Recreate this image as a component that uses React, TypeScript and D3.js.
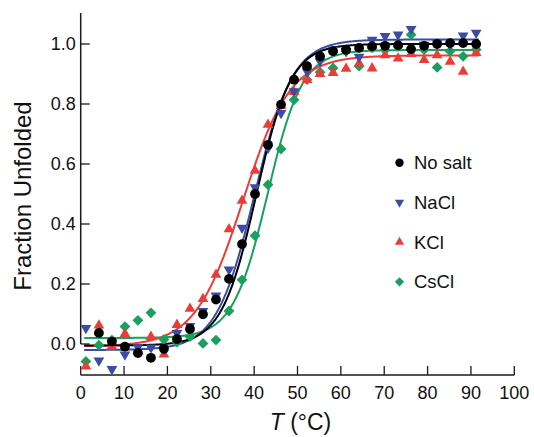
import React from 'react';
import * as d3 from 'd3';

const temps = [1.2, 4.2, 7.2, 10.2, 13.2, 16.2, 19.2, 22.2, 25.2, 28.2, 31.2, 34.2, 37.2, 40.2, 43.2, 46.2, 49.2, 52.2, 55.2, 58.2, 61.2, 64.2, 67.2, 70.2, 73.2, 76.2, 79.2, 82.2, 85.2, 88.2, 91.2];

const noSalt = [NaN, 0.037, 0.008, -0.009, -0.03, -0.046, -0.016, 0.016, 0.05, 0.099, 0.148, 0.217, 0.333, 0.5, 0.664, 0.798, 0.881, 0.926, 0.959, 0.976, 0.981, 0.987, 0.992, 0.994, 0.996, 0.983, 0.994, 1.0, 1.003, 1.003, 1.0];
const naCl = [0.053, -0.055, -0.084, -0.035, -0.01, -0.012, -0.018, 0.036, 0.06, 0.11, 0.161, 0.248, 0.387, 0.522, 0.653, 0.77, 0.842, 0.909, 0.942, 0.981, 0.976, 0.957, 1.014, 1.026, 1.031, 1.05, 0.997, 1.002, 0.997, 1.028, 1.037];
const kCl = [-0.075, 0.062, -0.008, 0.034, -0.024, 0.024, -0.035, 0.064, 0.118, 0.15, 0.231, 0.383, 0.478, 0.578, 0.731, 0.794, 0.84, 0.88, 0.9, 0.904, 0.918, 0.935, 0.919, 0.963, 0.952, 0.967, 0.947, 0.963, 0.941, 0.908, 0.97];
const csCl = [-0.058, -0.004, 0.013, 0.058, 0.079, 0.104, 0.015, 0.006, 0.025, 0.002, 0.013, 0.11, 0.214, 0.361, 0.531, 0.65, 0.814, 0.881, 0.906, 0.92, 0.976, 0.926, 0.987, 0.98, 0.992, 1.031, 0.981, 0.922, 0.976, 0.959, 0.981];

// two-state fit parameters: [low baseline, high baseline, Tm, width]
const fitNoSalt = [-0.005, 1.0, 40.5, 4.0];
const fitNaCl = [-0.02, 1.015, 40.1, 4.4];
const fitKCl = [-0.008, 0.962, 37.4, 5.5];
const fitCsCl = [0.02, 0.98, 43.1, 4.0];

const seriesNames = ['No salt', 'NaCl', 'KCl', 'CsCl'];
const seriesColors = ['#000000', '#3b4ca3', '#ec3c38', '#17a05e'];
const seriesShapes = ['circle', 'down', 'up', 'diamond'];

const xTicks = [0, 10, 20, 30, 40, 50, 60, 70, 80, 90, 100];
const yTicks = [0.0, 0.2, 0.4, 0.6, 0.8, 1.0];

const FONT = '"Liberation Sans", Arial, Helvetica, sans-serif';

function markerPath(shape: string, s: number): string {
  if (shape === 'circle') {
    return `M${s},0A${s},${s} 0 1,1 ${-s},0A${s},${s} 0 1,1 ${s},0Z`;
  }
  if (shape === 'down') {
    const a = s * 1.1, h = s * 1.9;
    return `M${-a},${-h / 3}L${a},${-h / 3}L0,${(2 * h) / 3}Z`;
  }
  if (shape === 'up') {
    const a = s * 1.1, h = s * 1.9;
    return `M${-a},${h / 3}L${a},${h / 3}L0,${(-2 * h) / 3}Z`;
  }
  const d = s * 1.1;
  return `M0,${-d}L${d},0L0,${d}L${-d},0Z`;
}

export default function App() {
  const x = d3.scaleLinear().domain([0, 100]).range([80.7, 514.3]);
  const y = d3.scaleLinear().domain([0, 1]).range([344, 44]);
  const xAxisY = y(-0.103);
  const yTop = y(1.103);

  const data = [noSalt, naCl, kCl, csCl];
  const fits = [fitNoSalt, fitNaCl, fitKCl, fitCsCl];
  const curveT = d3.range(0.8, 92.01, 0.25);
  const line = d3
    .line<number[]>()
    .x((d) => x(d[0]))
    .y((d) => y(d[1]))
    .curve(d3.curveLinear);

  const fitPath = (p: number[]) =>
    line(curveT.map((t) => [t, p[0] + (p[1] - p[0]) / (1 + Math.exp(-(t - p[2]) / p[3]))])) || '';

  const drawOrder = [3, 2, 1, 0];

  return (
    <svg
      width={534}
      height={437}
      style={{ position: 'absolute', left: 0, top: 0, background: '#fff' }}
      fontFamily={FONT}
    >
      {/* y axis */}
      <line x1={x(0)} x2={x(0)} y1={yTop} y2={y(0)} stroke="#1a1a1a" strokeWidth={1.5} />
      {yTicks.map((t) => (
        <g key={'y' + t}>
          <line x1={x(0)} x2={x(0) + 9} y1={y(t)} y2={y(t)} stroke="#1a1a1a" strokeWidth={1.3} />
          <text x={x(0) - 5} y={y(t)} dy="0.36em" textAnchor="end" fontSize={18} fill="#111">
            {t.toFixed(1)}
          </text>
        </g>
      ))}
      {/* x axis */}
      <line x1={x(0)} x2={x(100)} y1={xAxisY} y2={xAxisY} stroke="#1a1a1a" strokeWidth={1.5} />
      {xTicks.map((t) => (
        <g key={'x' + t}>
          <line x1={x(t)} x2={x(t)} y1={xAxisY} y2={xAxisY - 9} stroke="#1a1a1a" strokeWidth={1.3} />
          <text x={x(t)} y={xAxisY + 24.5} textAnchor="middle" fontSize={18} fill="#111">
            {t}
          </text>
        </g>
      ))}
      <text
        transform={`translate(30.5, ${(yTop + xAxisY) / 2 + 2}) rotate(-90)`}
        textAnchor="middle"
        fontSize={24}
        fill="#111"
      >
        Fraction Unfolded
      </text>
      <text x={(x(0) + x(100)) / 2 + 3} y={430} textAnchor="middle" fontSize={23} fill="#111">
        <tspan fontStyle="italic">T</tspan> (°C)
      </text>

      {/* fit lines */}
      {drawOrder.map((i) => (
        <path key={'f' + i} d={fitPath(fits[i])} fill="none" stroke={seriesColors[i]} strokeWidth={2} />
      ))}

      {/* markers */}
      {drawOrder.map((i) => (
        <g key={'m' + i} fill={seriesColors[i]}>
          {temps.map((t, j) =>
            Number.isFinite(data[i][j]) ? (
              <path
                key={j}
                transform={`translate(${x(t)},${y(data[i][j])})`}
                d={markerPath(seriesShapes[i], 4.9)}
              />
            ) : null
          )}
        </g>
      ))}

      {/* legend */}
      {seriesNames.map((name, i) => (
        <g key={'l' + i} transform={`translate(399.5, ${162.7 + i * 39.7})`}>
          <path d={markerPath(seriesShapes[i], 4.2)} fill={seriesColors[i]} />
          <text x={14.5} y={0} dy="0.36em" fontSize={18.5} fill="#111">
            {name}
          </text>
        </g>
      ))}
    </svg>
  );
}
